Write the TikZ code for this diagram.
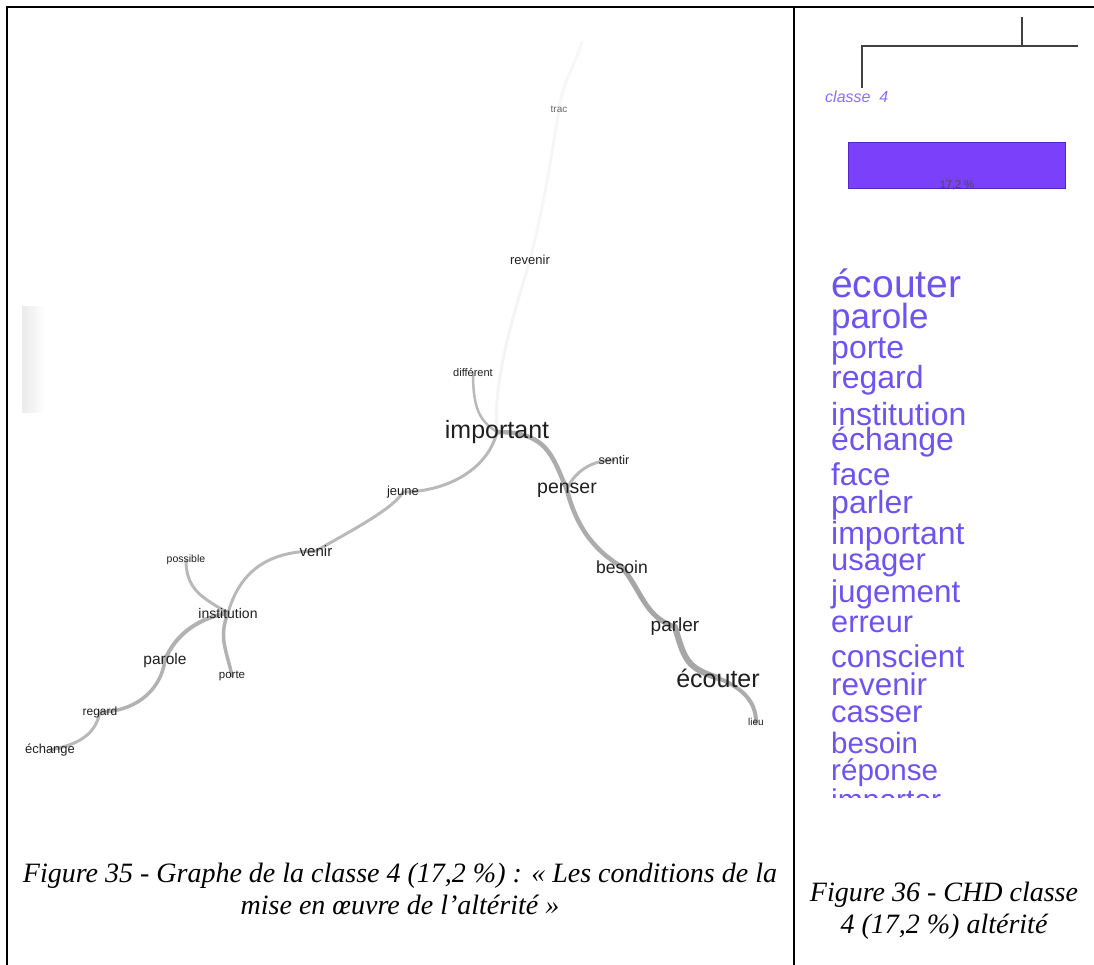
\documentclass[tikz,border=0pt]{standalone}
\usepackage{fontspec}
\setmainfont{Liberation Serif}
\setsansfont{Liberation Sans}
\pgfdeclarelayer{bg}
\pgfsetlayers{bg,main}
\definecolor{wordc}{RGB}{108,84,240}
\definecolor{classc}{RGB}{140,110,255}
\definecolor{barc}{RGB}{122,64,250}
\definecolor{barborder}{RGB}{80,40,200}
\tikzset{
  gw/.style={font=\sffamily\fontsize{#1}{#1}\selectfont, text=black!88, inner sep=0pt},
  lst/.style={anchor=base west, text=wordc, font=\sffamily\fontsize{#1}{#1}\selectfont, inner sep=0pt},
  edge/.style={line width=#1, line cap=round},
  captxt/.style={font=\itshape\fontsize{28}{32}\selectfont, align=center, inner sep=0pt},
}
\begin{document}
\begin{tikzpicture}[x=1pt,y=-1pt]
\useasboundingbox (0,0) rectangle (1094,965);
% frame
\draw[line width=2.2] (7,965) -- (7,7) -- (1094,7);
\draw[line width=1.5] (794,7) -- (794,965);
% scan artefact
\shade[left color=gray!16, right color=white] (22,307) rectangle (45,412);

% graph nodes
\node[gw=10, text=black!60] (trac) at (559,109) {trac};
\coordinate (tractop) at (582,42);
\node[gw=13] (revenir) at (530,260) {revenir};
\node[gw=11] (different) at (473,373) {différent};
\node[gw=25] (important) at (497,432) {important};
\node[gw=12.5] (sentir) at (614,460) {sentir};
\node[gw=19.5] (penser) at (567,490) {penser};
\node[gw=13] (jeune) at (403,492) {jeune};
\node[gw=15] (venir) at (316,551) {venir};
\node[gw=17.5] (besoin) at (622,567) {besoin};
\node[gw=19] (parler) at (675,627) {parler};
\node[gw=25] (ecouter) at (718,678) {écouter};
\node[gw=10] (lieu) at (756,722) {lieu};
\node[gw=10.5] (possible) at (186,560) {possible};
\node[gw=14] (institution) at (228,613) {institution};
\node[gw=15.5] (parole) at (165,660) {parole};
\node[gw=11.5] (porte) at (232,676) {porte};
\node[gw=12] (regard) at (100,712) {regard};
\node[gw=13] (echange) at (50,750) {échange};

\begin{pgfonlayer}{bg}
\draw[edge=3, draw=gray!6] (tractop) .. controls +(-10,30) and +(5,-30) .. (trac.center);
\draw[edge=3, draw=gray!7] (trac.center) .. controls +(-8,50) and +(15,-60) .. (revenir.center);
\draw[edge=3, draw=gray!9] (revenir.center) .. controls +(-15,50) and +(-5,-50) .. (important.center);
\draw[edge=2.5, draw=gray!55] (different.center) .. controls +(0,40) and +(-15,-10) .. (important.center);
\draw[edge=3, draw=gray!55] (important.center) .. controls +(-10,40) and +(40,0) .. (jeune.center);
\draw[edge=3, draw=gray!55] (jeune.center) .. controls +(-10,18) and +(25,-15) .. (venir.center);
\draw[edge=3, draw=gray!55] (venir.center) .. controls +(-55,0) and +(10,-35) .. (institution.center);
\draw[edge=3, draw=gray!55] (possible.center) .. controls +(0,30) and +(-25,-15) .. (institution.center);
\draw[edge=3.5, draw=gray!60] (institution.center) .. controls +(-10,25) and +(-5,-25) .. (porte.center);
\draw[edge=4, draw=gray!60] (institution.center) .. controls +(-30,5) and +(10,-25) .. (parole.center);
\draw[edge=3.5, draw=gray!60] (parole.center) .. controls +(-5,35) and +(30,0) .. (regard.center);
\draw[edge=3, draw=gray!55] (regard.center) .. controls +(-5,25) and +(25,-5) .. (echange.center);
\draw[edge=4.5, draw=gray!65] (important.center) .. controls +(50,0) and +(-15,-35) .. (penser.center);
\draw[edge=3, draw=gray!55] (sentir.center) .. controls +(-25,0) and +(5,-15) .. (penser.center);
\draw[edge=4.5, draw=gray!65] (penser.center) .. controls +(10,40) and +(-25,-15) .. (besoin.center);
\draw[edge=5, draw=gray!70] (besoin.center) .. controls +(20,25) and +(-30,-10) .. (parler.center);
\draw[edge=6, draw=gray!70] (parler.center) .. controls +(10,35) and +(-30,-10) .. (ecouter.center);
\draw[edge=4, draw=gray!65] (ecouter.center) .. controls +(25,10) and +(0,-20) .. (lieu.center);
\end{pgfonlayer}

% CHD panel
\draw[line width=1.2, draw=black!75] (862,88) -- (862,46) -- (1078,46);
\draw[line width=1.2, draw=black!75] (1022,17) -- (1022,46);
\node[text=classc, font=\sffamily\itshape\fontsize{16}{16}\selectfont, anchor=west, inner sep=0pt] (classe) at (825,97) {classe\ \ 4};
\node[draw=barborder, fill=barc, minimum width=217, minimum height=46, anchor=north west, inner sep=0pt] (bar) at (848,142) {};
\node[font=\sffamily\fontsize{11}{11}\selectfont, text=black!70, inner sep=0pt] (pct) at (957,185) {17,2 \%};

\begin{scope}
\clip (800,240) rectangle (1090,797);
\node[lst=39] (l1) at (831,298) {écouter};
\node[lst=35] (l2) at (831,328) {parole};
\node[lst=32] (l3) at (831,358) {porte};
\node[lst=32] (l4) at (831,388) {regard};
\node[lst=32] (l5) at (831,425) {institution};
\node[lst=32] (l6) at (831,450) {échange};
\node[lst=31.5] (l7) at (831,485) {face};
\node[lst=32] (l8) at (831,513) {parler};
\node[lst=32] (l9) at (831,544) {important};
\node[lst=31] (l10) at (831,570) {usager};
\node[lst=31.4] (l11) at (831,602) {jugement};
\node[lst=30.7] (l12) at (831,632) {erreur};
\node[lst=31.5] (l13) at (831,667) {conscient};
\node[lst=31.4] (l14) at (831,695) {revenir};
\node[lst=31] (l15) at (831,722) {casser};
\node[lst=29.5] (l16) at (831,753) {besoin};
\node[lst=29.6] (l17) at (831,780) {réponse};
\node[lst=30] (l18) at (831,810) {importer};
\end{scope}

% captions
\node[captxt] (cap35) at (400,889) {Figure 35 - Graphe de la classe 4 (17,2 \%) : « Les conditions de la\\mise en œuvre de l’altérité »};
\node[captxt] (cap36) at (944,911) {Figure 36 - CHD classe\\4 (17,2 \%) altérité};
\end{tikzpicture}
\end{document}
